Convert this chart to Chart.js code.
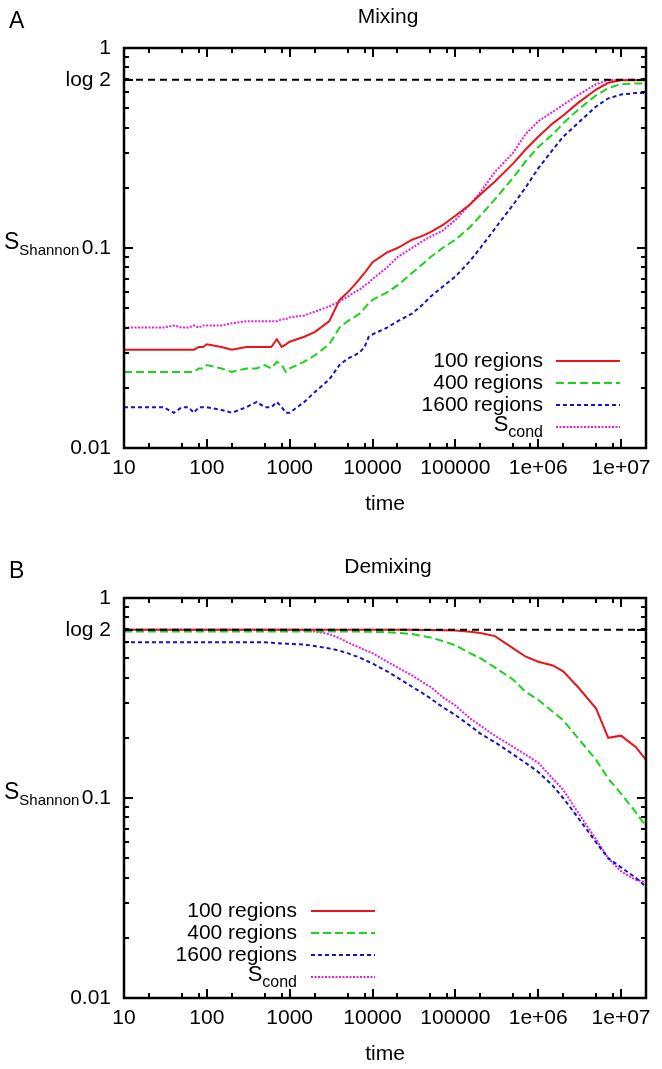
<!DOCTYPE html>
<html><head><meta charset="utf-8">
<script src="https://cdn.jsdelivr.net/npm/chart.js@4/dist/chart.umd.min.js"></script>
<style>
html,body{margin:0;padding:0;background:#fff;width:662px;height:1069px;overflow:hidden}
.wrap{position:absolute;left:0;width:662px;height:519px}
</style></head><body>
<div class="wrap" style="top:0"><canvas id="cA" width="662" height="519"></canvas></div>
<div class="wrap" style="top:550px"><canvas id="cB" width="662" height="519"></canvas></div>
<script>
// ---------- data ----------
const timesMix = [10,20,30,40,50,60,70,80,90,100,150,200,300,400,500,600,700,800,900,1000,1500,2000,3000,4000,5000,6000,7000,8000,9000,10000,15000,20000,30000,40000,50000,70000,100000,150000,200000,300000,500000,700000,1e6,1.5e6,2e6,3e6,5e6,7e6,1e7,1.5e7,2e7];
const mix100 = [0.031,0.031,0.031,0.031,0.031,0.031,0.031,0.032,0.032,0.033,
 0.032,0.031,0.032,0.032,0.032,0.032,0.035,0.032,0.033,0.034,
 0.036,0.038,0.043,0.055,0.060,0.065,0.070,0.075,0.080,0.085,
 0.095,0.100,0.110,0.115,0.120,0.130,0.145,
 0.165,0.185,0.215,0.265,0.310,0.360,
 0.420,0.460,0.530,0.620,0.670,0.690,0.690,0.690];
const mix400 = [0.024,0.024,0.024,0.024,0.024,0.024,0.024,0.025,0.025,0.026,
 0.025,0.024,0.025,0.025,0.026,0.025,0.027,0.026,0.024,0.025,
 0.027,0.029,0.033,0.040,0.043,0.045,0.047,0.050,0.053,0.055,
 0.060,0.065,0.075,0.083,0.090,0.100,0.110,
 0.127,0.145,0.175,0.225,0.270,0.320,
 0.370,0.420,0.490,0.580,0.630,0.660,0.665,0.665];
const mix1600 = [0.016,0.016,0.016,0.015,0.016,0.016,0.015,0.016,0.016,0.016,
 0.0155,0.015,0.016,0.017,0.016,0.016,0.017,0.016,0.015,0.015,
 0.017,0.019,0.022,0.026,0.028,0.029,0.030,0.032,0.036,0.037,
 0.040,0.043,0.047,0.052,0.057,0.064,0.072,
 0.086,0.100,0.125,0.165,0.200,0.250,
 0.310,0.360,0.420,0.510,0.560,0.585,0.595,0.595];
const mixCond = [0.040,0.040,0.040,0.041,0.040,0.040,0.041,0.040,0.041,0.041,
 0.041,0.042,0.043,0.043,0.043,0.043,0.043,0.044,0.044,0.045,
 0.046,0.048,0.051,0.054,0.057,0.060,0.062,0.065,0.067,0.070,
 0.080,0.090,0.100,0.108,0.114,0.122,0.138,
 0.165,0.190,0.240,0.300,0.370,0.430,
 0.480,0.520,0.580,0.660,0.690,0.693,0.693,0.693];

const timesDemix = [10,20,30,40,50,60,70,80,90,100,150,200,300,400,500,600,700,800,900,1000,1500,2000,3000,4000,5000,6000,7000,8000,9000,10000,15000,20000,30000,40000,50000,70000,100000,150000,200000,300000,500000,700000,1e6,1.5e6,2e6,3e6,5e6,7e6,1e7,1.5e7,2e7];
const demix100 = [0.693,0.693,0.693,0.693,0.693,0.693,0.693,0.693,0.693,0.693,
 0.693,0.693,0.693,0.693,0.693,0.693,0.693,0.693,0.693,0.693,
 0.693,0.693,0.693,0.693,0.693,0.693,0.693,0.693,0.693,0.693,
 0.693,0.693,0.693,0.692,0.691,0.690,0.687,
 0.678,0.668,0.645,0.560,0.510,0.480,
 0.460,0.430,0.360,0.280,0.200,0.205,0.180,0.155];
const demix400 = [0.68,0.68,0.68,0.68,0.68,0.68,0.68,0.68,0.68,0.68,
 0.68,0.68,0.68,0.68,0.68,0.68,0.68,0.68,0.68,0.68,
 0.68,0.68,0.68,0.68,0.68,0.68,0.68,0.679,0.678,0.677,
 0.675,0.670,0.660,0.645,0.635,0.610,0.580,
 0.530,0.500,0.450,0.390,0.340,0.310,
 0.270,0.245,0.200,0.155,0.125,0.105,0.085,0.072];
const demix1600 = [0.60,0.60,0.60,0.60,0.60,0.60,0.60,0.60,0.60,0.60,
 0.60,0.60,0.60,0.60,0.60,0.598,0.595,0.593,0.591,0.590,
 0.585,0.575,0.560,0.545,0.530,0.515,0.505,0.490,0.480,0.470,
 0.430,0.400,0.360,0.335,0.315,0.285,0.260,
 0.230,0.210,0.190,0.165,0.150,0.135,
 0.115,0.100,0.080,0.060,0.050,0.045,0.040,0.036];
const demixCond = [0.693,0.693,0.693,0.693,0.693,0.693,0.693,0.693,0.693,0.693,
 0.693,0.693,0.693,0.693,0.693,0.693,0.693,0.693,0.693,0.693,
 0.690,0.680,0.660,0.630,0.600,0.580,0.565,0.550,0.540,0.530,
 0.480,0.450,0.410,0.380,0.360,0.320,0.290,
 0.250,0.230,0.205,0.180,0.165,0.150,
 0.125,0.110,0.085,0.062,0.050,0.043,0.039,0.038];

const seriesLabels = ['100 regions','400 regions','1600 regions','S_cond'];
const xTickValues = [10,100,1000,10000,100000,1e6,1e7];
const xTickLabels = ['10','100','1000','10000','100000','1e+06','1e+07'];
const yTickValues = [0.01,0.1,Math.LN2,1];
const yTickLabels = ['0.01','0.1','log 2','1'];
const xMinorFactors = [2,5,8];
const yMinorFactors = [2,3,4,5,6,7,8,9];
const logTwo = Math.LN2;

// ---------- styles ----------
const FONT = 'Liberation Sans';
const FS = 21;
Chart.defaults.font.family = FONT;
Chart.defaults.font.size = FS;
Chart.defaults.color = '#000';

const styles = [
  {color:'#e8161b', dash:[]},
  {color:'#17d517', dash:[8,4]},
  {color:'#1414c8', dash:[4,3]},
  {color:'#e51ee5', dash:[2,1.5]}
];

function toPts(times, vals){ return times.map((t,i)=>({x:t,y:vals[i]})); }

function drawSubText(ctx, main, sub, xRight, y, mainSize, subSize, alignLeftX){
  ctx.font = mainSize+'px "'+FONT+'"';
  const wm = ctx.measureText(main).width;
  ctx.font = subSize+'px "'+FONT+'"';
  const ws = ctx.measureText(sub).width;
  let x0 = (alignLeftX!==undefined) ? alignLeftX : xRight - wm - ws;
  ctx.textAlign='left'; ctx.textBaseline='middle';
  ctx.font = mainSize+'px "'+FONT+'"';
  ctx.fillText(main, x0, y);
  ctx.font = subSize+'px "'+FONT+'"';
  ctx.fillText(sub, x0+wm, y+8);
}

const framePlugin = {
  id:'frame',
  afterDatasetsDraw(chart, args, opts){
    const {ctx, chartArea:a, scales:{x, y}} = chart;
    ctx.save();
    ctx.strokeStyle='#000';
    ctx.lineWidth=2;
    ctx.setLineDash([]);
    const xmax = x.max, ymin = y.min, ymax = y.max;
    const xt = [];
    for (let d=10; d<=xmax; d*=10){ xt.push([d,9]); xMinorFactors.forEach(m=>{ if(d*m<=xmax) xt.push([d*m,5]); }); }
    xt.forEach(([v,len])=>{
      const p = Math.round(x.getPixelForValue(v));
      if (p<=a.left+1 || p>=a.right-1) return;
      ctx.beginPath(); ctx.moveTo(p,a.bottom); ctx.lineTo(p,a.bottom-len);
      ctx.moveTo(p,a.top); ctx.lineTo(p,a.top+len); ctx.stroke();
    });
    const yt = [];
    for (let d=ymin; d<ymax*0.999; d*=10){ yMinorFactors.forEach(m=>yt.push([d*m,5])); }
    yTickValues.forEach(v=>yt.push([v,9]));
    yt.forEach(([v,len])=>{
      const p = Math.round(y.getPixelForValue(v));
      if (p<a.top-0.5 || p>a.bottom+0.5) return;
      ctx.beginPath(); ctx.moveTo(a.left,p); ctx.lineTo(a.left+len,p);
      ctx.moveTo(a.right,p); ctx.lineTo(a.right-len,p); ctx.stroke();
    });
    ctx.lineWidth=2.5;
    ctx.strokeRect(a.left, a.top, a.right-a.left, a.bottom-a.top);
    // legend
    ctx.fillStyle='#000';
    const L = opts.legend;
    chart.data.datasets.forEach((ds)=>{
      if (ds.isRef) return;
      const k = ds.legendIndex;
      const yy = L.y0 + k*L.dy;
      const lab = ds.label;
      if (lab.indexOf('_')>=0){
        const [m,s] = lab.split('_');
        drawSubText(ctx, m, s, L.textRight, yy-2, 22, 16);
      } else {
        ctx.font = FS+'px "'+FONT+'"';
        ctx.textAlign='right'; ctx.textBaseline='middle';
        ctx.fillText(lab, L.textRight, yy);
      }
      ctx.strokeStyle = ds.borderColor; ctx.lineWidth = ds.borderWidth;
      ctx.setLineDash(ds.borderDash||[]);
      ctx.beginPath(); ctx.moveTo(L.lineLeft, yy); ctx.lineTo(L.lineRight, yy); ctx.stroke();
      ctx.setLineDash([]);
    });
    // titles
    ctx.fillStyle='#000';
    ctx.font = FS+'px "'+FONT+'"';
    ctx.textAlign='center'; ctx.textBaseline='middle';
    ctx.fillText(opts.title, opts.titleX, opts.titleY);
    ctx.font = '23px "'+FONT+'"';
    ctx.textAlign='left';
    ctx.fillText(opts.panel, 9, opts.panelY);
    // y axis title
    drawSubText(ctx, 'S', 'Shannon', 0, y.getPixelForValue(0.1)-5, 23, 15, 4);
    ctx.restore();
  }
};

function makeChart(id, times, series, title, panel, legend){
  const datasets = [{
    label:'log 2', isRef:true,
    data:[{x:10,y:logTwo},{x:2e7,y:logTwo}],
    borderColor:'#000', borderWidth:2, borderDash:[7,5], pointRadius:0, fill:false
  }];
  series.forEach((vals,i)=>{
    datasets.push({
      label: seriesLabels[i], legendIndex:i,
      data: toPts(times, vals),
      borderColor: styles[i].color, borderDash: styles[i].dash,
      borderWidth: 2, pointRadius:0, fill:false, tension:0
    });
  });
  return new Chart(document.getElementById(id), {
    type:'line',
    data:{datasets},
    options:{
      responsive:false, animation:false, devicePixelRatio:1,
      layout:{padding:{left:0, top:48, right:16, bottom:0}},
      plugins:{
        legend:{display:false}, tooltip:{enabled:false},
        frame:{title, titleX:388, titleY:17, panel, panelY:22, legend}
      },
      scales:{
        x:{
          type:'logarithmic', min:10, max:2e7, position:'bottom',
          grid:{display:false, drawTicks:false}, border:{display:false},
          afterBuildTicks:(s)=>{ s.ticks = xTickValues.map(v=>({value:v, major:true})); },
          afterFit:(s)=>{ s.height = 71; s.paddingLeft=0; s.paddingRight=0; s.paddingTop=0; s.paddingBottom=0; },
          ticks:{autoSkip:false, maxRotation:0, minRotation:0, padding:8,
            callback:(v,i)=>xTickLabels[i]},
          title:{display:true, text:'time', padding:{top:0,bottom:2}, font:{size:FS}}
        },
        y:{
          type:'logarithmic', min:0.01, max:1, position:'left',
          grid:{display:false, drawTicks:false}, border:{display:false},
          afterBuildTicks:(s)=>{ s.ticks = yTickValues.map(v=>({value:v, major:true})); },
          afterFit:(s)=>{ s.width = 124; s.paddingLeft=0; s.paddingRight=0; s.paddingTop=0; s.paddingBottom=0; },
          ticks:{autoSkip:false, padding:13, callback:(v,i)=>yTickLabels[i]}
        }
      }
    },
    plugins:[framePlugin]
  });
}

makeChart('cA', timesMix, [mix100, mix400, mix1600, mixCond], 'Mixing', 'A',
  {textRight:543, lineLeft:556, lineRight:620, y0:361, dy:22});
makeChart('cB', timesDemix, [demix100, demix400, demix1600, demixCond], 'Demixing', 'B',
  {textRight:297, lineLeft:311, lineRight:375, y0:361, dy:22});
</script>
</body></html>
